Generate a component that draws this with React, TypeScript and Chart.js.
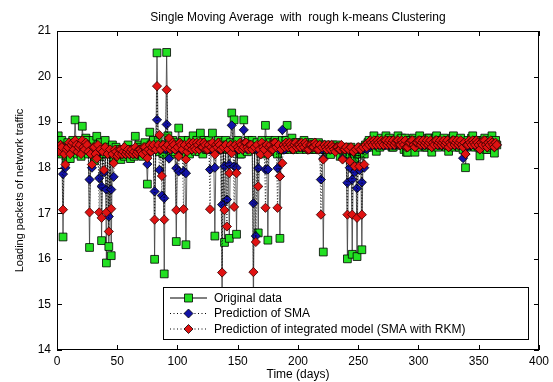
import React, { useEffect, useRef } from 'react';
import { Chart, registerables } from 'chart.js';

Chart.register(...registerables);

// Time axis: one sample per day, starting at day 1
const FIRST_DAY = 1;
const DAY_STEP = 1;

// Original data (loading packets of network traffic), days 1..365
const originalData = [
  18.7, 18.3, 18.4, 18.6, 16.48, 18.45, 18.35, 18.2, 18.55, 18.4,
  18.2, 18.5, 18.6, 18.35, 19.05, 18.45, 18.3, 18.6, 18.5, 18.25,
  18.91, 18.5, 18.4, 18.65, 18.6, 18.3, 16.25, 18.45, 18.5, 18.6,
  18.15, 18.4, 18.69, 18.5, 18.25, 18.55, 16.4, 18.4, 18.3, 18.6,
  15.91, 18.45, 16.27, 18.3, 16.07, 18.5, 18.2, 18.35, 18.45, 18.3,
  18.25, 18.4, 18.18, 18.3, 18.4, 18.25, 18.3, 18.45, 18.5, 18.3,
  18.2, 18.4, 18.35, 18.25, 18.69, 18.4, 18.3, 18.5, 18.45, 18.3,
  18.25, 18.4, 18.55, 18.35, 17.64, 18.45, 18.78, 18.5, 18.4, 18.6,
  15.99, 18.45, 20.52, 18.6, 18.35, 18.45, 18.5, 18.3, 15.67, 18.5,
  20.53, 18.7, 18.6, 18.4, 18.3, 18.6, 18.55, 18.35, 16.38, 18.5,
  18.87, 18.4, 18.45, 18.6, 18.3, 18.5, 16.31, 18.45, 18.6, 18.3,
  18.4, 18.55, 18.7, 18.4, 18.36, 18.6, 18.5, 18.35, 18.76, 18.5,
  18.3, 18.6, 18.55, 18.4, 18.4, 18.6, 18.4, 18.5, 18.76, 18.45,
  16.5, 18.4, 18.5, 18.6, 18.4, 18.55, 15.0, 18.45, 16.36, 18.6,
  18.5, 18.4, 16.45, 18.55, 19.2, 18.5, 19.05, 18.4, 16.54, 18.6,
  18.45, 18.3, 18.3, 18.5, 19.05, 18.45, 18.5, 18.35, 18.6, 18.45,
  18.43, 18.6, 14.9, 18.5, 18.4, 18.55, 16.57, 18.45, 18.5, 18.6,
  18.3, 18.45, 18.93, 18.5, 16.41, 18.6, 18.55, 18.35, 18.4, 18.55,
  18.6, 18.4, 18.3, 18.55, 16.45, 18.5, 18.6, 18.4, 18.4, 18.6,
  18.93, 18.5, 18.5, 18.4, 18.65, 18.45, 18.4, 18.55, 18.55, 18.45,
  18.5, 18.4, 18.45, 18.55, 18.6, 18.45, 18.4, 18.5, 18.55, 18.4,
  18.45, 18.55, 18.5, 18.4, 18.4, 18.5, 18.55, 18.45, 18.4, 18.5,
  16.15, 18.45, 18.5, 18.4, 18.45, 18.35, 18.29, 18.45, 18.5, 18.4,
  18.4, 18.5, 18.45, 18.35, 18.25, 18.4, 18.4, 18.3, 18.3, 18.45,
  16.0, 18.4, 18.3, 18.45, 16.1, 18.35, 18.2, 18.4, 16.05, 18.3,
  18.35, 18.45, 16.2, 18.4, 18.3, 18.5, 18.45, 18.55, 18.6, 18.45,
  18.5, 18.6, 18.7, 18.55, 18.36, 18.5, 18.6, 18.45, 18.65, 18.55,
  18.5, 18.6, 18.7, 18.5, 18.55, 18.65, 18.6, 18.45, 18.45, 18.6,
  18.6, 18.5, 18.7, 18.55, 18.5, 18.65, 18.55, 18.4, 18.65, 18.34,
  18.34, 18.6, 18.6, 18.5, 18.5, 18.65, 18.34, 18.55, 18.6, 18.45,
  18.7, 18.55, 18.5, 18.6, 18.6, 18.45, 18.45, 18.65, 18.65, 18.5,
  18.34, 18.55, 18.55, 18.65, 18.7, 18.45, 18.5, 18.6, 18.6, 18.5,
  18.65, 18.55, 18.45, 18.6, 18.36, 18.5, 18.6, 18.65, 18.7, 18.45,
  18.5, 18.6, 18.55, 18.45, 18.65, 18.55, 18.4, 18.5, 18.0, 18.45,
  18.6, 18.5, 18.5, 18.65, 18.7, 18.5, 18.45, 18.6, 18.6, 18.45,
  18.26, 18.5, 18.55, 18.6, 18.65, 18.4, 18.4, 18.55, 18.6, 18.45,
  18.7, 18.5, 18.32, 18.6, 18.5,
];

// Prediction of SMA, days 1..365
const smaPrediction = [
  18.45, 18.4, 18.5, 18.45, 17.86, 18.35, 18.0, 18.4, 18.4, 18.5,
  18.35, 18.45, 18.5, 18.4, 18.55, 18.45, 18.4, 18.5, 18.5, 18.35,
  18.55, 18.45, 18.45, 18.5, 18.5, 18.4, 17.74, 18.35, 18.0, 18.4,
  18.4, 18.35, 18.3, 18.45, 17.77, 18.4, 17.59, 18.35, 17.9, 18.4,
  17.52, 18.3, 16.93, 18.35, 17.52, 18.3, 17.8, 18.35, 18.3, 18.3,
  18.3, 18.35, 18.35, 18.3, 18.35, 18.4, 18.3, 18.35, 18.35, 18.3,
  18.35, 18.4, 18.3, 18.35, 18.4, 18.3, 18.35, 18.4, 18.4, 18.35,
  18.3, 18.4, 18.4, 18.35, 18.08, 18.4, 18.4, 18.35, 18.45, 18.45,
  17.48, 18.4, 19.05, 18.45, 17.95, 18.4, 17.39, 18.45, 17.33, 18.4,
  18.95, 18.45, 18.2, 18.4, 18.4, 18.5, 18.45, 18.4, 17.99, 18.4,
  17.92, 18.5, 18.4, 18.4, 17.92, 18.45, 17.88, 18.4, 18.4, 18.5,
  18.45, 18.4, 18.5, 18.45, 18.45, 18.5, 18.45, 18.4, 18.5, 18.45,
  18.45, 18.5, 18.5, 18.4, 18.4, 18.45, 17.96, 18.4, 18.5, 18.4,
  18.0, 18.45, 18.4, 18.5, 18.45, 18.4, 17.19, 18.45, 18.03, 18.45,
  17.3, 18.4, 18.07, 18.45, 18.93, 18.4, 18.03, 18.45, 18.0, 18.4,
  18.4, 18.5, 18.45, 18.4, 18.83, 18.45, 18.5, 18.4, 18.45, 18.5,
  18.45, 18.4, 17.22, 18.45, 16.5, 18.4, 17.99, 18.4, 18.3, 18.5,
  18.4, 18.45, 17.96, 18.4, 17.96, 18.45, 18.45, 18.4, 18.4, 18.5,
  18.5, 18.45, 17.99, 18.4, 17.81, 18.45, 18.83, 18.4, 18.4, 18.5,
  18.5, 18.45, 18.45, 18.5, 18.5, 18.4, 18.45, 18.5, 18.45, 18.5,
  18.45, 18.5, 18.5, 18.45, 18.45, 18.5, 18.5, 18.4, 18.4, 18.45,
  18.45, 18.5, 18.5, 18.45, 18.45, 18.4, 18.4, 18.45, 17.74, 18.4,
  18.2, 18.45, 18.45, 18.4, 18.45, 18.4, 18.4, 18.45, 18.45, 18.4,
  18.4, 18.45, 18.45, 18.4, 18.4, 18.45, 18.2, 18.4, 18.4, 18.4,
  17.67, 18.4, 18.0, 18.4, 17.74, 18.35, 17.9, 18.4, 17.55, 18.4,
  17.95, 18.4, 17.68, 18.4, 18.0, 18.45, 18.4, 18.5, 18.5, 18.55,
  18.5, 18.55, 18.55, 18.5, 18.5, 18.55, 18.5, 18.5, 18.55, 18.5,
  18.55, 18.5, 18.5, 18.55, 18.5, 18.5, 18.55, 18.5, 18.5, 18.55,
  18.5, 18.55, 18.55, 18.5, 18.5, 18.55, 18.55, 18.5, 18.55, 18.45,
  18.45, 18.5, 18.5, 18.55, 18.55, 18.5, 18.45, 18.5, 18.5, 18.55,
  18.55, 18.5, 18.5, 18.55, 18.5, 18.5, 18.55, 18.5, 18.5, 18.55,
  18.45, 18.5, 18.5, 18.55, 18.55, 18.5, 18.5, 18.55, 18.5, 18.5,
  18.55, 18.5, 18.5, 18.55, 18.45, 18.5, 18.5, 18.55, 18.55, 18.5,
  18.5, 18.55, 18.5, 18.5, 18.55, 18.5, 18.21, 18.5, 18.3, 18.45,
  18.5, 18.55, 18.5, 18.5, 18.55, 18.5, 18.5, 18.55, 18.5, 18.5,
  18.4, 18.5, 18.5, 18.55, 18.55, 18.5, 18.45, 18.5, 18.5, 18.55,
  18.5, 18.5, 18.45, 18.5, 18.5,
];

// Prediction of integrated model (SMA with RKM), days 1..365
const integratedPrediction = [
  18.4, 18.35, 18.5, 18.45, 17.08, 18.3, 18.07, 18.4, 18.45, 18.55,
  18.3, 18.5, 18.55, 18.4, 18.6, 18.5, 18.35, 18.45, 18.5, 18.3,
  18.6, 18.45, 18.4, 18.55, 18.5, 18.35, 17.02, 18.3, 18.07, 18.45,
  18.45, 18.3, 18.2, 18.5, 17.02, 18.4, 16.9, 18.35, 17.95, 18.45,
  17.02, 18.3, 16.6, 18.4, 17.1, 18.3, 18.1, 18.4, 18.35, 18.25,
  18.3, 18.4, 18.4, 18.3, 18.35, 18.45, 18.3, 18.35, 18.4, 18.3,
  18.35, 18.4, 18.3, 18.35, 18.45, 18.3, 18.35, 18.4, 18.4, 18.35,
  18.3, 18.45, 18.45, 18.35, 18.21, 18.4, 18.5, 18.35, 18.45, 18.5,
  16.86, 18.4, 19.79, 18.5, 18.72, 18.4, 17.82, 18.5, 16.86, 18.45,
  19.71, 18.5, 18.65, 18.4, 18.45, 18.55, 18.5, 18.4, 17.07, 18.45,
  18.25, 18.55, 18.5, 18.4, 17.09, 18.5, 18.18, 18.35, 18.45, 18.55,
  18.5, 18.4, 18.55, 18.45, 18.4, 18.55, 18.5, 18.4, 18.55, 18.45,
  18.45, 18.55, 18.5, 18.4, 18.4, 18.5, 17.09, 18.45, 18.55, 18.4,
  18.29, 18.5, 18.45, 18.55, 18.5, 18.4, 15.7, 18.45, 17.07, 18.5,
  16.71, 18.4, 17.88, 18.5, 18.32, 18.45, 17.14, 18.5, 17.88, 18.45,
  18.4, 18.55, 18.5, 18.4, 18.45, 18.55, 18.55, 18.45, 18.4, 18.5,
  18.5, 18.4, 15.71, 18.45, 16.37, 18.5, 17.59, 18.4, 18.29, 18.55,
  18.45, 18.4, 17.12, 18.5, 18.29, 18.45, 18.5, 18.4, 18.4, 18.55,
  18.55, 18.45, 17.12, 18.5, 17.81, 18.4, 18.1, 18.5, 18.45, 18.55,
  18.5, 18.45, 18.55, 18.5, 18.45, 18.4, 18.5, 18.55, 18.45, 18.5,
  18.5, 18.45, 18.55, 18.5, 18.45, 18.55, 18.5, 18.4, 18.4, 18.5,
  18.5, 18.45, 18.45, 18.55, 18.5, 18.4, 18.4, 18.5, 16.97, 18.45,
  18.18, 18.5, 18.45, 18.4, 18.5, 18.45, 18.4, 18.5, 18.45, 18.4,
  18.35, 18.45, 18.45, 18.4, 18.4, 18.5, 18.18, 18.4, 18.4, 18.45,
  16.97, 18.4, 18.14, 18.45, 16.97, 18.35, 18.03, 18.4, 16.9, 18.45,
  18.03, 18.4, 16.97, 18.45, 18.07, 18.5, 18.45, 18.55, 18.5, 18.6,
  18.55, 18.5, 18.6, 18.55, 18.5, 18.6, 18.55, 18.5, 18.6, 18.55,
  18.5, 18.6, 18.6, 18.5, 18.55, 18.6, 18.5, 18.55, 18.6, 18.5,
  18.55, 18.6, 18.6, 18.5, 18.5, 18.6, 18.55, 18.5, 18.6, 18.45,
  18.45, 18.55, 18.55, 18.6, 18.6, 18.5, 18.45, 18.55, 18.55, 18.6,
  18.6, 18.5, 18.55, 18.6, 18.5, 18.55, 18.6, 18.5, 18.55, 18.6,
  18.45, 18.55, 18.5, 18.6, 18.6, 18.5, 18.55, 18.6, 18.5, 18.55,
  18.6, 18.5, 18.55, 18.6, 18.45, 18.55, 18.5, 18.6, 18.6, 18.5,
  18.55, 18.6, 18.5, 18.55, 18.6, 18.5, 18.45, 18.55, 18.3, 18.5,
  18.5, 18.6, 18.55, 18.5, 18.6, 18.55, 18.5, 18.6, 18.55, 18.5,
  18.4, 18.55, 18.5, 18.6, 18.6, 18.5, 18.45, 18.55, 18.5, 18.6,
  18.55, 18.5, 18.45, 18.55, 18.5,
];

const X_MIN = 0;
const X_MAX = 400;
const X_STEP = 50;
const Y_MIN = 14;
const Y_MAX = 21;
const Y_STEP = 1;

const TITLE = 'Single Moving Average  with  rough k-means Clustering';
const X_TITLE = 'Time (days)';
const Y_TITLE = 'Loading packets of network traffic';
const SERIES_LABELS = [
  'Original data',
  'Prediction of SMA',
  'Prediction of integrated model (SMA with RKM)',
];

const FONT = '"Liberation Sans", Arial, Helvetica, sans-serif';

const GREEN = '#22e022';
const BLUE = '#1212a8';
const RED = '#e01212';

const toPoints = (arr: number[]) =>
  arr.map((v, i) => ({ x: FIRST_DAY + i * DAY_STEP, y: v }));

const framePlugin = {
  id: 'matlabFrame',
  afterDraw(chart: any) {
    const { ctx, chartArea } = chart;
    const { left, right, top, bottom } = chartArea;
    const xs = chart.scales.x;
    const ys = chart.scales.y;
    ctx.save();
    ctx.strokeStyle = '#000';
    ctx.lineWidth = 1;
    ctx.strokeRect(left + 0.5, top + 0.5, right - left - 1, bottom - top - 1);
    const tl = 5;
    ctx.beginPath();
    for (let v = X_MIN; v <= X_MAX; v += X_STEP) {
      const px = Math.round(xs.getPixelForValue(v)) + 0.5;
      ctx.moveTo(px, bottom);
      ctx.lineTo(px, bottom - tl);
      ctx.moveTo(px, top);
      ctx.lineTo(px, top + tl);
    }
    for (let v = Y_MIN; v <= Y_MAX; v += Y_STEP) {
      const py = Math.round(ys.getPixelForValue(v)) + 0.5;
      ctx.moveTo(left, py);
      ctx.lineTo(left + tl, py);
      ctx.moveTo(right, py);
      ctx.lineTo(right - tl, py);
    }
    ctx.stroke();

    // legend
    const lx = 163;
    const ly = 287;
    const lw = 365;
    const lh = 52;
    ctx.fillStyle = '#fff';
    ctx.fillRect(lx, ly, lw, lh);
    ctx.strokeStyle = '#000';
    ctx.lineWidth = 1;
    ctx.strokeRect(lx + 0.5, ly + 0.5, lw, lh);
    const rows = [298, 313.5, 329];
    const fills = [GREEN, BLUE, RED];
    rows.forEach((ry, i) => {
      ctx.beginPath();
      ctx.strokeStyle = '#000';
      ctx.lineWidth = 1;
      if (i === 0) ctx.setLineDash([]);
      else ctx.setLineDash([1, 2.5]);
      ctx.moveTo(170, ry);
      ctx.lineTo(207, ry);
      ctx.stroke();
      ctx.setLineDash([]);
      ctx.beginPath();
      const cx = 188.5;
      if (i === 0) {
        ctx.rect(cx - 4, ry - 4, 8, 8);
      } else {
        ctx.moveTo(cx - 4.5, ry);
        ctx.lineTo(cx, ry - 4.5);
        ctx.lineTo(cx + 4.5, ry);
        ctx.lineTo(cx, ry + 4.5);
        ctx.closePath();
      }
      ctx.fillStyle = fills[i];
      ctx.fill();
      ctx.lineWidth = 0.8;
      ctx.strokeStyle = '#000';
      ctx.stroke();
      ctx.fillStyle = '#000';
      ctx.font = `12px ${FONT}`;
      ctx.textAlign = 'left';
      ctx.textBaseline = 'middle';
      ctx.fillText(SERIES_LABELS[i], 214, ry + 0.5);
    });

    // title & axis titles
    ctx.fillStyle = '#000';
    ctx.font = `12px ${FONT}`;
    ctx.textAlign = 'center';
    ctx.textBaseline = 'middle';
    ctx.fillText(TITLE, (left + right) / 2, 18);
    ctx.fillText(X_TITLE, (left + right) / 2, 375);
    ctx.save();
    ctx.translate(20, (top + bottom) / 2);
    ctx.rotate(-Math.PI / 2);
    ctx.font = `11px ${FONT}`;
    ctx.fillText(Y_TITLE, 0, 0);
    ctx.restore();
    ctx.restore();
  },
};

export default function App() {
  const canvasRef = useRef<HTMLCanvasElement | null>(null);

  useEffect(() => {
    if (!canvasRef.current) return;
    const chart = new Chart(canvasRef.current, {
      type: 'line',
      data: {
        datasets: [
          {
            label: SERIES_LABELS[0],
            data: toPoints(originalData),
            order: 3,
            borderColor: '#3c3c3c',
            borderWidth: 0.8,
            pointStyle: 'rect',
            pointRadius: 5.5,
            pointBackgroundColor: GREEN,
            pointBorderColor: '#000',
            pointBorderWidth: 0.8,
            tension: 0,
          },
          {
            label: SERIES_LABELS[1],
            data: toPoints(smaPrediction),
            order: 2,
            borderColor: '#000',
            borderWidth: 0.8,
            borderDash: [1, 2],
            pointStyle: 'rectRot',
            pointRadius: 4.6,
            pointBackgroundColor: BLUE,
            pointBorderColor: '#000',
            pointBorderWidth: 0.8,
            tension: 0,
          },
          {
            label: SERIES_LABELS[2],
            data: toPoints(integratedPrediction),
            order: 1,
            borderColor: '#000',
            borderWidth: 0.8,
            borderDash: [1, 2],
            pointStyle: 'rectRot',
            pointRadius: 4.6,
            pointBackgroundColor: RED,
            pointBorderColor: '#300',
            pointBorderWidth: 0.8,
            tension: 0,
          },
        ],
      },
      options: {
        responsive: false,
        animation: false,
        events: [],
        layout: { padding: { top: 31, right: 14, left: 0, bottom: 0 } },
        plugins: {
          legend: { display: false },
          title: { display: false },
          tooltip: { enabled: false },
        },
        scales: {
          x: {
            type: 'linear',
            min: X_MIN,
            max: X_MAX,
            grid: { display: false, drawTicks: false },
            border: { display: false },
            ticks: {
              stepSize: X_STEP,
              color: '#000',
              padding: 4,
              maxRotation: 0,
              font: { size: 12, family: FONT },
            },
            afterFit: (s: any) => {
              s.height = 32;
            },
          },
          y: {
            type: 'linear',
            min: Y_MIN,
            max: Y_MAX,
            grid: { display: false, drawTicks: false },
            border: { display: false },
            ticks: {
              stepSize: Y_STEP,
              color: '#000',
              padding: 6,
              font: { size: 12, family: FONT },
            },
            afterFit: (s: any) => {
              s.width = 57;
            },
          },
        },
      },
      plugins: [framePlugin],
    });
    return () => chart.destroy();
  }, []);

  return (
    <div style={{ position: 'absolute', left: 0, top: 0, width: 553, height: 382, background: '#fff' }}>
      <canvas ref={canvasRef} width={553} height={382} style={{ width: 553, height: 382, display: 'block' }} />
    </div>
  );
}
